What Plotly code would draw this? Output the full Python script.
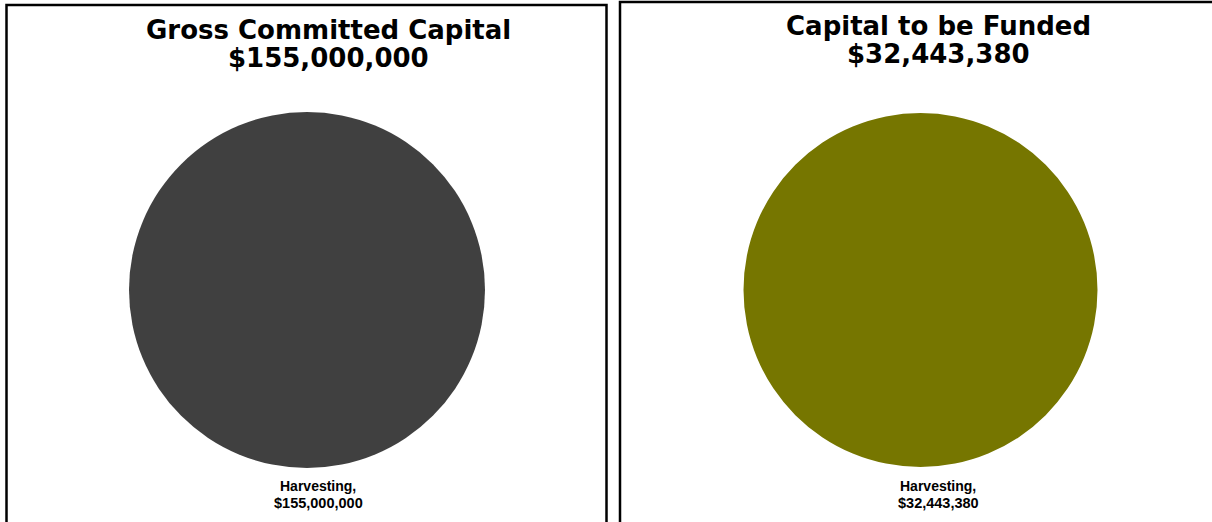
import plotly.graph_objects as go

W, H = 1212, 522

titles = ["Gross Committed Capital", "Capital to be Funded"]
categories = ["Harvesting"]
values_left = [155000000]
values_right = [32443380]
colors = ["#404040", "#767600"]

def px(x): return x / W
def py(y): return 1 - y / H

fig = go.Figure()

panels = [
    dict(vals=values_left, color=colors[0], cx=307, cy=290, r=178, tx=328.5, ty=0, lx=318, title=titles[0]),
    dict(vals=values_right, color=colors[1], cx=920.5, cy=290, r=177, tx=938.5, ty=-3, lx=938, title=titles[1]),
]

annotations = []
for p in panels:
    fig.add_trace(go.Pie(
        labels=categories, values=p["vals"], marker=dict(colors=[p["color"]], line=dict(width=0)),
        textinfo="none", hoverinfo="label+value", sort=False, showlegend=False,
        domain=dict(x=[px(p["cx"] - p["r"]), px(p["cx"] + p["r"])],
                    y=[py(p["cy"] + p["r"]), py(p["cy"] - p["r"])]),
    ))
    total = sum(p["vals"])
    tfont = dict(family="DejaVu Sans", color="#000000")
    annotations.append(dict(
        x=px(p["tx"]), y=py(29.5 + p["ty"]), xref="paper", yref="paper", xanchor="center", yanchor="middle",
        text=f"<b>{p['title']}</b>", showarrow=False, font=dict(size=26, **tfont),
    ))
    annotations.append(dict(
        x=px(p["tx"]), y=py(57.5 + p["ty"]), xref="paper", yref="paper", xanchor="center", yanchor="middle",
        text=f"<b>${total:,.0f}</b>", showarrow=False, font=dict(size=26, **tfont),
    ))
    lfont = dict(family="Liberation Sans", color="#000000")
    annotations.append(dict(
        x=px(p["lx"]), y=py(486), xref="paper", yref="paper", xanchor="center", yanchor="middle",
        text=f"<b>{categories[0]},</b>", showarrow=False, font=dict(size=14, **lfont),
    ))
    annotations.append(dict(
        x=px(p["lx"]), y=py(502.5), xref="paper", yref="paper", xanchor="center", yanchor="middle",
        text=f"<b>${p['vals'][0]:,.0f}</b>", showarrow=False, font=dict(size=14.5, **lfont),
    ))

shapes = [
    dict(type="rect", xref="paper", yref="paper", x0=px(6.5), x1=px(606.5), y0=py(540), y1=py(5),
         line=dict(color="#000000", width=2.5)),
    dict(type="rect", xref="paper", yref="paper", x0=px(620), x1=px(1230), y0=py(540), y1=py(2),
         line=dict(color="#000000", width=2.5)),
]

fig.update_layout(
    width=W, height=H, margin=dict(l=0, r=0, t=0, b=0),
    paper_bgcolor="#ffffff", plot_bgcolor="#ffffff",
    annotations=annotations, shapes=shapes,
)

fig.write_html("out.html", config={"displayModeBar": False},
               post_script="document.body.style.margin='0';document.body.style.overflow='hidden';")
